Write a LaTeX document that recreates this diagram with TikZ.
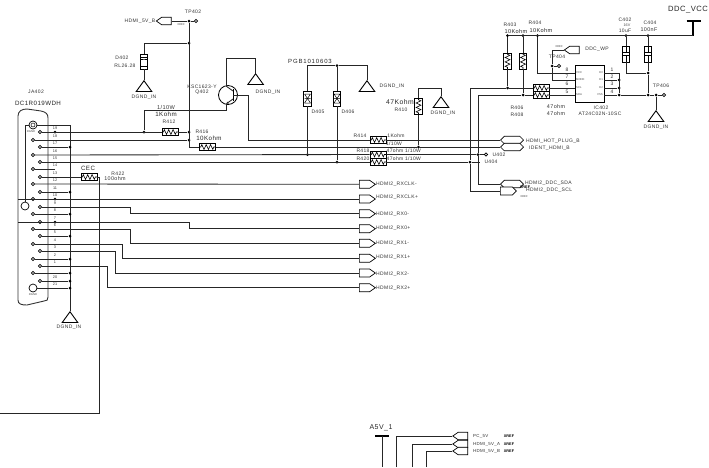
\documentclass[tikz,border=0pt]{standalone}
\usepackage{fontspec}
\setmainfont{Liberation Sans}
\newfontfamily\lblfont[LetterSpace=7]{Liberation Sans}
\newfontfamily\widefont[LetterSpace=14]{Liberation Sans}
\usetikzlibrary{shapes.geometric,shapes.symbols,arrows.meta}
\tikzset{
  wire/.style={line width=.85pt,draw=black!85},
  lbl/.style={font=\lblfont\fontsize{5}{5}\selectfont,inner sep=0,text=black!80},
  midl/.style={font=\lblfont\fontsize{6.2}{6}\selectfont,inner sep=0,text=black!85},
  bigl/.style={font=\lblfont\fontsize{7.6}{8}\selectfont,inner sep=0,text=black!85},
  tiny/.style={font=\fontsize{2.8}{3}\selectfont,inner sep=0,text=black!70},
  blob/.style={font=\bfseries\fontsize{3.8}{4}\selectfont,inner sep=0},
  dot/.style={circle,fill=black,inner sep=0,minimum size=3pt},
  pinc/.style={circle,draw,line width=.7pt,fill=white,inner sep=0,minimum size=3.4pt},
  ringc/.style={circle,draw,line width=.7pt,fill=white,inner sep=0,minimum size=8pt},
  gnd/.style={regular polygon,regular polygon sides=3,draw,line width=.9pt,inner sep=0,
    minimum size=18pt,yscale=.8,anchor=corner 1},
  resh/.style={rectangle,draw,line width=.7pt,fill=white,inner sep=0,minimum width=16pt,minimum height=7pt,
    path picture={\draw[line width=.6pt] (path picture bounding box.west) -- ++(1.3pt,0) -- ++(1pt,2.4pt)
      -- ++(2.2pt,-4.8pt) -- ++(2.2pt,4.8pt) -- ++(2.2pt,-4.8pt) -- ++(2.2pt,4.8pt) -- ++(2.2pt,-4.8pt)
      -- ++(1pt,2.4pt) -- (path picture bounding box.east);}},
  resv/.style={rectangle,draw,line width=.7pt,fill=white,inner sep=0,minimum width=7.5pt,minimum height=16pt,
    path picture={\draw[line width=.6pt] (path picture bounding box.north) -- ++(0,-1.3pt) -- ++(2.4pt,-1pt)
      -- ++(-4.8pt,-2.2pt) -- ++(4.8pt,-2.2pt) -- ++(-4.8pt,-2.2pt) -- ++(4.8pt,-2.2pt) -- ++(-4.8pt,-2.2pt)
      -- ++(2.4pt,-1pt) -- (path picture bounding box.south);}},
  zen/.style={rectangle,draw,line width=.7pt,fill=white,inner sep=0,minimum width=7.5pt,minimum height=15pt,
    path picture={\draw[line width=.5pt,shift={(path picture bounding box.center)}]
      (-4pt,4.5pt) -- (4pt,4.5pt) (-4pt,-4.5pt) -- (4pt,-4.5pt) (-4pt,2.5pt) -- (4pt,2.5pt);
      \fill[shift={(path picture bounding box.center)}] (-2.8pt,-2.5pt) -- (2.8pt,-2.5pt) -- (0,2.5pt) -- cycle;}},
  tvs/.style={rectangle,draw,line width=.7pt,fill=white,inner sep=0,minimum width=7.5pt,minimum height=15pt,
    path picture={\draw[line width=.5pt,shift={(path picture bounding box.center)}]
      (-3pt,4.5pt) -- (3pt,-4.5pt) (3pt,4.5pt) -- (-3pt,-4.5pt) (-3pt,4.5pt) -- (3pt,4.5pt)
      (-3pt,-4.5pt) -- (3pt,-4.5pt) (-3pt,0) -- (3pt,0);}},
  capv/.style={rectangle,draw,line width=.7pt,fill=white,inner sep=0,minimum width=7.5pt,minimum height=16pt,
    path picture={\draw[line width=.7pt,shift={(path picture bounding box.center)}]
      (0,8pt) -- (0,1.5pt) (-3.5pt,1.5pt) -- (3.5pt,1.5pt) (-3.5pt,-1.5pt) -- (3.5pt,-1.5pt) (0,-1.5pt) -- (0,-8pt);}},
  portr/.style={signal,signal to=east,signal pointer angle=70,draw,line width=.7pt,fill=white,inner sep=0,
    minimum width=16pt,minimum height=8pt,anchor=west},
  portl/.style={signal,signal to=west,signal pointer angle=70,draw,line width=.7pt,fill=white,inner sep=0,
    minimum width=15pt,minimum height=7.5pt},
  porth/.style={signal,signal to=west and east,signal pointer angle=90,draw,line width=.7pt,fill=white,inner sep=0,
    minimum width=23pt,minimum height=7.5pt,anchor=west}
}
\begin{document}
\begin{tikzpicture}[x=1pt,y=-1pt]
  \useasboundingbox (0,0) rectangle (709,467);

  % connector body
  \draw[line width=.9pt,draw=black!80] (18,300) -- (18,116) .. controls (18,111) and (22,109) .. (27,109)
    -- (41,111) .. controls (46,112) and (48,114) .. (48,118) -- (48,297) .. controls (48,300) and (47,301) .. (44,301)
    -- (27,305) .. controls (21,305) and (18,304) .. (18,300);
  \node[lbl] (tJA) at (36,92) {JA402};
  \node[midl] (tDC) at (38,103) {DC1R019WDH};

  % pins
  \foreach \n/\x/\y in {19/40/132,18/33/140,17/40/147,16/33/155,15/40/162,14/33/169,13/40/177,12/33/184,11/40/192,
    10/33/199,9/40/207,8/33/214,7/40/222,6/33/229,5/40/236,4/33/244,3/40/251,2/33/259,1/40/266,22/33/273,20/40/281}{
    \node[pinc] (p\n) at (\x,\y) {};
  }
  \foreach \n/\y in {19/128,18/136,17/143,16/151,15/158,14/165,13/173,12/180,11/188,10/195,9/203,8/210,7/218,6/225,
    5/232,4/240,3/247,2/255,1/262,20/277,21/284}{
    \node[lbl,font=\fontsize{3.8}{4}\selectfont] (n\n) at (55,\y) {\n};
  }
  \node[ringc] (shell) at (33,125) {};
  \node[circle,draw,line width=.5pt,inner sep=0,minimum size=4pt] (shellin) at (33,125) {};
  \node[ringc] (p21) at (33,288) {};
  \node[ringc] (lug) at (25,206) {};
  \node[tiny] (tRg1) at (31,132) {RGND};
  \node[tiny] (tRg2) at (33,295) {RGND};

  % shell and ground bus
  \coordinate (cornerL) at (25,125);
  \coordinate (cornerR) at (70,125);
  \node[gnd] (gnd1) at (70,311) {};
  \node[lbl] (tgnd1) at (69,327) {DGND\_IN};
  \draw[wire] (lug) -- (cornerL) -- (shell) -- (cornerR) -- (gnd1.corner 1);
  \foreach \n/\y in {17/147,11/192,8/214,5/236,2/259,22/273,20/281,21/288}{
    \node[dot] (bus\n) at (70,\y) {};
    \draw[wire] (p\n) -- (bus\n);
  }
  \node[dot] (d19) at (55,132) {};
  \node[dot] (d10) at (55,199) {};
  \node[dot] (d7) at (55,222) {};
  \coordinate (edge10) at (18,199);
  \coordinate (edge7) at (18,222);
  \coordinate (end14) at (55,169);
  \draw[wire] (p14) -- (end14);

  % HDMI2 outputs
  \foreach \nm/\y/\ty/\t in {rxcm/184.3/184.5/RXCLK-,rxcp/199/197/RXCLK+,rx0m/213.7/214/RX0-,rx0p/228.7/228/RX0+,
    rx1m/243.3/243/RX1-,rx1p/258.3/257/RX1+,rx2m/273/274/RX2-,rx2p/287.7/288/RX2+}{
    \node[portr] (\nm) at (359,\y) {};
    \node[lbl,anchor=west] (t\nm) at (376,\ty) {HDMI2\_\t};
  }
  \draw[wire] (p12) -- (rxcm);
  \draw[wire] (edge10) -- (rxcp);
  \draw[wire] (p9) -- (130,207) |- (rx0m);
  \draw[wire] (edge7) -- (189,222) |- (rx0p);
  \draw[wire] (p6) -- (130,229) |- (rx1m);
  \draw[wire] (p4) -- (122,244) |- (rx1p);
  \draw[wire] (p3) -- (115,251) |- (rx2m);
  \draw[wire] (p1) -- (107,266) |- (rx2p);

  % CEC
  \node[resh] (R422) at (89,177) {};
  \node[midl] (tCEC) at (88,168) {CEC};
  \node[lbl] (tR422) at (118,174) {R422};
  \node[lbl,font=\lblfont\fontsize{5.4}{6}\selectfont] (v422) at (115,179) {100ohm};
  \coordinate (cecfree) at (0,413);
  \draw[wire] (p13) -- (R422) -- (99.5,177) -- (99.5,413) -- (cecfree);

  % TP402 and D402
  \node[dot] (d21) at (189,21) {};
  \node[pinc] (tp402) at (196,21) {};
  \node[lbl] (ttp402) at (193,12) {TP402};
  \node[portl] (hdmib) at (166.5,21) {};
  \node[lbl] (thdmib) at (140,21) {HDMI\_5V\_B};
  \node[tiny] (xr1) at (181,25) {XREF};
  \draw[wire] (hdmib) -- (d21) -- (tp402);
  \node[dot] (d43) at (189,43) {};
  \node[dot] (d132) at (189,132) {};
  \node[dot] (d140) at (189,140) {};
  \coordinate (bend147) at (189,147);
  \draw[wire] (d21) -- (bend147);
  \node[zen] (D402) at (144,61.5) {};
  \node[lbl] (tD402) at (122,58) {D402};
  \node[lbl] (vD402) at (125,66) {RL26.28};
  \node[gnd] (gnd2) at (144,80) {};
  \node[lbl] (tgnd2) at (144,97) {DGND\_IN};
  \draw[wire] (d43) -| (D402);
  \draw[wire] (D402) -- (gnd2.corner 1);

  % transistor
  \node[circle,draw,line width=.8pt,inner sep=0,minimum size=19pt] (Q402) at (228,95) {};
  \node[lbl] (tQtype) at (202,87) {KSC1623-Y};
  \node[lbl] (tQ402) at (202,92.5) {Q402};
  \coordinate (qbar1) at (233,89);
  \coordinate (qbar2) at (233,101);
  \coordinate (qe) at (226,86);
  \coordinate (qc) at (226,104);
  \coordinate (qb) at (233,95);
  \draw[line width=1pt] (qbar1) -- (qbar2);
  \draw[wire] (233,91) -- (qe);
  \draw[wire,-{Latex[length=2.5pt,width=2.5pt]}] (233,99) -- (qc);
  \node[gnd] (gnd3) at (255.6,73) {};
  \node[lbl] (tgnd3) at (268,92) {DGND\_IN};
  \draw[wire] (qe) -- (226,58) -| (gnd3.corner 1);
  \node[dot] (d144) at (144,132) {};
  \draw[wire] (qc) -- (226,110) -| (d144);
  \node[lbl,font=\lblfont\fontsize{5.6}{6}\selectfont] (t110w) at (166,107) {1/10W};
  \node[midl] (v412) at (166,114) {1Kohm};
  \node[lbl] (tR412) at (169,122) {R412};

  % series resistors
  \node[resh] (R412) at (170,132) {};
  \draw[wire] (p19) -- (R412) -- (d132);
  \draw[wire] (p18) -- (d140);
  \node[resh] (R416) at (207.5,147) {};
  \node[lbl] (tR416) at (202,132) {R416};
  \node[midl] (v416) at (209,138) {10Kohm};
  \node[resh] (R414) at (378,140) {};
  \node[resh] (R418) at (378,154.5) {};
  \node[resh] (R420) at (378,162) {};
  \node[lbl] (tR414) at (360,136) {R414};
  \node[lbl] (v414) at (396,136) {1Kohm};
  \node[lbl] (w414) at (394,144) {1/10W};
  \node[lbl] (tR418) at (363,151) {R418};
  \node[lbl] (v418) at (395,151) {47ohm};
  \node[lbl] (w418) at (413,151) {1/10W};
  \node[lbl] (tR420) at (363,158.5) {R420};
  \node[lbl] (v420) at (395,158.5) {47ohm};
  \node[lbl] (w420) at (413,158.5) {1/10W};

  % hot plug and ident
  \node[porth] (hot) at (500,140) {};
  \node[porth] (ident) at (500,147) {};
  \node[lbl,anchor=west] (thot) at (526,141) {HDMI\_HOT\_PLUG\_B};
  \node[lbl,anchor=west] (tident) at (529,148) {IDENT\_HDMI\_B};
  \node[dot] (d418) at (418.5,147) {};
  \draw[wire] (qb) -- (248,95) |- (R414);
  \draw[wire] (R414) -- (hot);
  \draw[wire] (bend147) -- (R416) -- (d418) -- (ident);

  % U402 U404
  \node[dot] (d307) at (307.5,154.5) {};
  \node[dot] (d337) at (337,162) {};
  \node[dot] (d478) at (478,154.5) {};
  \node[dot] (d470) at (470,162) {};
  \node[pinc] (u402) at (486,154.5) {};
  \coordinate (u404) at (480,162);
  \node[lbl] (tu402) at (499,155) {U402};
  \node[lbl] (tu404) at (491,162) {U404};
  \draw[wire] (p16) -- (R418) -- (d478) -- (u402);
  \draw[wire] (p15) -- (R420) -- (d470) -- (u404);

  % D405 D406
  \node[midl] (tPGB) [font=\widefont\fontsize{6}{6}\selectfont] at (310,61) {PGB1010603};
  \node[dot] (d65) at (337,65.5) {};
  \node[tvs] (D405) at (307.5,98.5) {};
  \node[tvs] (D406) at (337,98.5) {};
  \node[lbl] (tD405) at (318,112) {D405};
  \node[lbl] (tD406) at (348,112) {D406};
  \node[gnd] (gnd4) at (367,80) {};
  \node[lbl] (tgnd4) at (392,86) {DGND\_IN};
  \draw[wire] (d307) -- (D405) -- (307.5,65.5) -- (d65) -| (gnd4.corner 1);
  \draw[wire] (d337) -- (D406) -- (d65);

  % R410
  \node[resv] (R410) at (418.5,106.5) {};
  \node[bigl,font=\lblfont\fontsize{6.8}{7}\selectfont] (v410) at (400,102) {47Kohm};
  \node[lbl] (tR410) at (401,110) {R410};
  \node[gnd] (gnd5) at (441,96) {};
  \node[lbl] (tgnd5) at (443,113) {DGND\_IN};
  \draw[wire] (d418) -- (R410) -- (418.5,88) -| (gnd5.corner 1);

  % DDC supply
  \coordinate (vcc) at (693,21);
  \coordinate (vccL) at (686.5,21);
  \coordinate (vccR) at (700.5,21);
  \coordinate (railR) at (693,35.7);
  \node[bigl] (tvcc) at (688,10) {DDC\_VCC};
  \draw[line width=1.2pt] (vccL) -- (vccR) (vcc) -- (railR);
  \node[dot] (r507) at (507.5,35.7) {};
  \node[dot] (r523) at (523,35.7) {};
  \node[dot] (r537) at (537.5,35.7) {};
  \node[dot] (r626) at (626,35.7) {};
  \node[dot] (r648) at (648,35.7) {};
  \draw[wire] (r507) -- (railR);
  \node[resv] (R403) at (507.5,61) {};
  \node[resv] (R404) at (523,61) {};
  \node[lbl] (tR403) at (510,24.5) {R403};
  \node[midl,font=\lblfont\fontsize{5.6}{6}\selectfont] (v403) at (516,31) {10Kohm};
  \node[lbl] (tR404) at (535,23) {R404};
  \node[midl,font=\lblfont\fontsize{5.6}{6}\selectfont] (v404) at (541,30) {10Kohm};
  \node[capv] (C402) at (626,54) {};
  \node[capv] (C404) at (648,54) {};
  \node[lbl] (tC402) at (625,20) {C402};
  \node[tiny,font=\fontsize{3.8}{4}\selectfont] (u402v) at (627,25) {16V};
  \node[lbl] (v402) at (625,31) {10uF};
  \node[lbl] (tC404) at (650,23) {C404};
  \node[lbl,font=\lblfont\fontsize{5.4}{6}\selectfont] (v404c) at (649,30) {100nF};

  % EEPROM
  \node[rectangle,draw,line width=.8pt,inner sep=0,minimum width=29pt,minimum height=37pt] (IC402) at (589.5,84.2) {};
  \node[lbl] (tIC402) at (601,108) {IC402};
  \node[lbl] (tICtype) at (600,114) {AT24C02N-10SC};
  \foreach \nm/\y/\t in {vcc/73/VCC,mode/80/MODE/WC,scl/88/SCL,sda/95/SDA}{
    \coordinate (pin\nm) at (575,\y);
    \node[tiny,anchor=west] (t\nm) at (576,\y) {\t};
  }
  \foreach \nm/\y/\t in {e0/73/E0,e1/80/E1,e2/88/E2,vss/95/VSS}{
    \coordinate (pin\nm) at (604,\y);
    \node[tiny,anchor=east] (t\nm) at (603,\y) {\t};
  }
  \foreach \n/\y in {8/69.7,7/76.7,6/84,5/91.7}{
    \node[lbl] (m\n) at (567,\y) {\n};
  }
  \foreach \n/\y in {1/70,2/77,3/84,4/92}{
    \node[lbl] (m\n) at (612,\y) {\n};
  }
  \coordinate (top619) at (619,73);
  \node[dot] (d80) at (619,80) {};
  \node[dot] (d88) at (619,88) {};
  \node[dot] (d95) at (619,95) {};
  \node[dot] (d648a) at (648,73) {};
  \node[dot] (d648b) at (648,95) {};
  \node[dot] (d656) at (656,95) {};
  \node[pinc] (tp406) at (664,95) {};
  \node[lbl] (ttp406) at (661,86) {TP406};
  \draw[wire] (pine0) -- (top619) -- (d95);
  \draw[wire] (pine1) -- (d80);
  \draw[wire] (pine2) -- (d88);
  \draw[wire] (pinvss) -- (d95) -- (d648b) -- (d656) -- (tp406);
  \draw[wire] (r648) -- (C404) -- (d648a) -- (d648b);
  \draw[wire] (r626) -- (C402) |- (d648a);
  \node[gnd] (gnd6) at (656,110) {};
  \node[lbl] (tgnd6) at (656,127) {DGND\_IN};
  \draw[wire] (d656) -- (gnd6.corner 1);
  \draw[wire] (r537) -- (537.5,73) -- (pinvcc);

  % TP404 and write protect
  \node[dot] (d552) at (552,66) {};
  \node[pinc] (tp404) at (559,66) {};
  \node[lbl] (ttp404) at (557,57) {TP404};
  \node[portl] (wp) at (574.5,50) {};
  \node[lbl] (twp) at (597,49) {DDC\_WP};
  \node[tiny] (xr2) at (559,47) {XREF};
  \draw[wire] (wp) -| (d552);
  \draw[wire] (d552) -- (tp404);
  \draw[wire] (d552) |- (pinmode);

  % SCL SDA
  \node[resh] (R406) at (541,88) {};
  \node[resh] (R408) at (541,95) {};
  \node[lbl] (tR406) at (517,108) {R406};
  \node[lbl] (tR408) at (517,115) {R408};
  \node[lbl,font=\lblfont\fontsize{5.4}{6}\selectfont] (v406) at (556,107) {47ohm};
  \node[lbl,font=\lblfont\fontsize{5.4}{6}\selectfont] (v408) at (556,114) {47ohm};
  \node[dot] (d88a) at (507.5,88) {};
  \node[dot] (d95a) at (523,95) {};
  \draw[wire] (r507) -- (R403) -- (d88a);
  \draw[wire] (r523) -- (R404) -- (d95a);
  \node[porth] (sda) at (500,184) {};
  \node[signal,signal to=east,signal pointer angle=90,draw,line width=.7pt,fill=white,inner sep=0,
    minimum width=16pt,minimum height=8pt,anchor=west] (scl) at (500,191) {};
  \node[lbl,anchor=west] (tsda) at (525,183) {HDMI2\_DDC\_SDA};
  \node[lbl,anchor=west] (tscl) at (526,190) {HDMI2\_DDC\_SCL};
  \node[blob] (xr3) at (525,187.5) {XREF};
  \node[tiny] (xr4) at (524,197) {XREF};
  \draw[wire] (pinscl) -- (R406) -- (d88a) -- (470,88) -- (d470) -- (470,191) -- (scl);
  \draw[wire] (pinsda) -- (R408) -- (d95a) -- (478,95) -- (d478) -- (478,184) -- (sda);

  % 5V rail
  \node[midl,font=\lblfont\fontsize{7}{7}\selectfont] (tA5V) at (381,428) {A5V\_1};
  \coordinate (a5vL) at (375,436);
  \coordinate (a5vR) at (389,436);
  \coordinate (a5vT) at (382,436);
  \coordinate (a5vB) at (382,467);
  \draw[line width=1.1pt] (a5vL) -- (a5vR);
  \draw[wire] (a5vT) -- (a5vB);
  \foreach \nm/\wx/\y/\t in {pc/396/436/PC\_5V,va/412/444/HDMI\_5V\_A,vb/426/451/HDMI\_5V\_B}{
    \node[portl] (\nm) at (463,\y) {};
    \node[lbl,anchor=west,font=\lblfont\fontsize{4.4}{5}\selectfont] (t\nm) at (473,\y) {\t};
    \node[blob] (x\nm) at (509,\y) {XREF};
    \coordinate (foot\nm) at (\wx,467);
    \draw[wire] (foot\nm) |- (\nm);
  }
\end{tikzpicture}
\end{document}
